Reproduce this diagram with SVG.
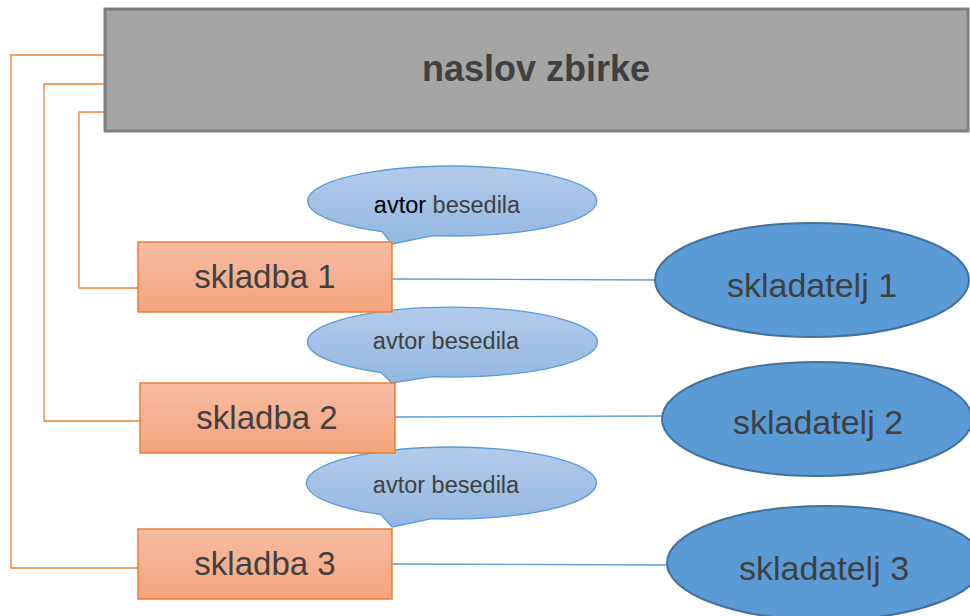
<svg xmlns="http://www.w3.org/2000/svg" width="970" height="616" viewBox="0 0 970 616">
<defs>
<linearGradient id="gO" x1="0" y1="0" x2="0" y2="1"><stop offset="0" stop-color="#f6bca2"/><stop offset="1" stop-color="#f4a47e"/></linearGradient>
<linearGradient id="gB" x1="0" y1="0" x2="0" y2="1"><stop offset="0" stop-color="#b2cbea"/><stop offset="1" stop-color="#93b7e2"/></linearGradient>
<style>
.t{font-family:"Liberation Sans","Noto Sans",sans-serif;fill:#404040;text-anchor:middle}
.sk{fill:url(#gO);stroke:#ed7d31;stroke-width:1.5}
.co{fill:url(#gB);stroke:#5b9bd5;stroke-width:1.3}
.el{fill:#5b9bd5;stroke:#41719c;stroke-width:2}
.or{fill:none;stroke:#ed7d31;stroke-width:1.3}
.bl{fill:none;stroke:#5b9bd5;stroke-width:1.3}
</style>
</defs>
<g id="connectors">
<polyline class="or" points="105,55 11,55 11,568 138,568"/>
<polyline class="or" points="105,84 44,84 44,421 140,421"/>
<polyline class="or" points="105,112 79,112 79,288 138,288"/>
<line class="bl" x1="392" y1="279" x2="655" y2="280"/>
<line class="bl" x1="395" y1="417" x2="662" y2="416"/>
<line class="bl" x1="392" y1="564" x2="667" y2="565"/>
</g>
<g id="title">
<rect x="105" y="9" width="863" height="122" fill="#a5a5a5" stroke="#7f7f7f" stroke-width="3"/>
<text class="t" x="536" y="81" font-size="36" font-weight="bold">naslov zbirke</text>
</g>
<g id="callout1">
<path class="co" d="M382,231.6 A144.5,35 0 1 1 433,235.7 L392,244 Z"/>
<text class="t" x="447" y="213" font-size="23.5"><tspan fill="#000">avtor</tspan> besedila</text>
</g>
<g id="callout2">
<path class="co" d="M381,372.5 A145,35 0 1 1 432,376.7 L392,383 Z"/>
<text class="t" x="446" y="349" font-size="23.5">avtor besedila</text>
</g>
<g id="callout3">
<path class="co" d="M381,514.5 A145,36 0 1 1 432,518.7 L392,527 Z"/>
<text class="t" x="446" y="493" font-size="23.5">avtor besedila</text>
</g>
<g id="skladba1">
<rect class="sk" x="138" y="242" width="254" height="70"/>
<text class="t" x="265" y="288" font-size="33">skladba 1</text>
</g>
<g id="skladba2">
<rect class="sk" x="140" y="383" width="255" height="70"/>
<text class="t" x="267" y="429" font-size="33">skladba 2</text>
</g>
<g id="skladba3">
<rect class="sk" x="138" y="529" width="254" height="70"/>
<text class="t" x="265" y="575" font-size="33">skladba 3</text>
</g>
<g id="skladatelj1">
<ellipse class="el" cx="812" cy="280" rx="157" ry="57"/>
<text class="t" x="812" y="297" font-size="34">skladatelj 1</text>
</g>
<g id="skladatelj2">
<ellipse class="el" cx="817" cy="419" rx="155" ry="57"/>
<text class="t" x="818" y="434" font-size="34">skladatelj 2</text>
</g>
<g id="skladatelj3">
<ellipse class="el" cx="825" cy="563" rx="158" ry="57"/>
<text class="t" x="824" y="580" font-size="34">skladatelj 3</text>
</g>
</svg>
